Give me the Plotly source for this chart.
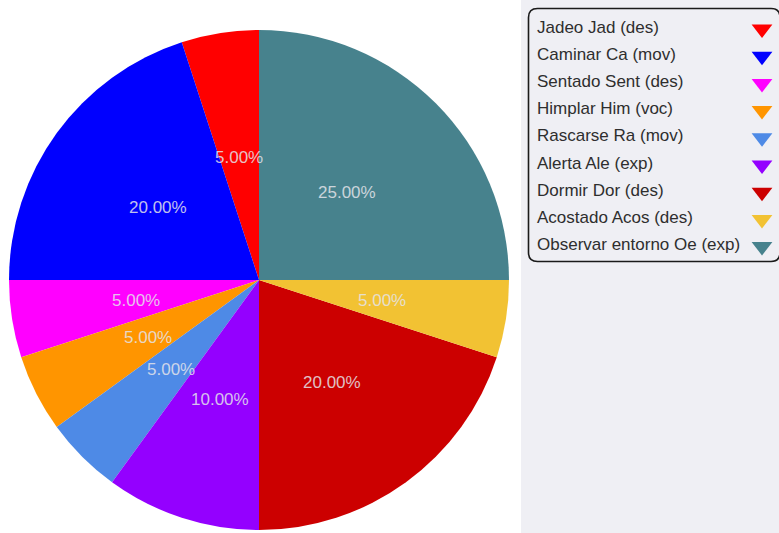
import math
import plotly.graph_objects as go

# Data
labels = ["Jadeo Jad (des)", "Caminar Ca (mov)", "Sentado Sent (des)", "Himplar Him (voc)",
          "Rascarse Ra (mov)", "Alerta Ale (exp)", "Dormir Dor (des)", "Acostado Acos (des)",
          "Observar entorno Oe (exp)"]
values = [5, 20, 5, 5, 5, 10, 20, 5, 25]
colors = ["#FF0000", "#0000FF", "#FF00FF", "#FF9500", "#4E8AE6", "#9400FF", "#CC0000",
          "#F2C233", "#47828D"]

W, H = 779, 533
total = sum(values)

fig = go.Figure()

# Pie (first slice starts at 12 o'clock and runs counterclockwise)
cx, cy, R = 259, 280, 250
fig.add_trace(go.Pie(
    labels=labels, values=values, sort=False, direction="counterclockwise",
    rotation=-360 * values[0] / total,
    marker=dict(colors=colors, line=dict(width=0)),
    textinfo="none",
    domain=dict(x=[(cx - R) / W, (cx + R) / W], y=[1 - (cy + R) / H, 1 - (cy - R) / H]),
    showlegend=False, hoverinfo="label+percent",
))

# Percent labels at half radius along each slice's mid angle
start = 0
for v in values:
    mid = math.radians((start + v / 2) / total * 360)
    start += v
    fig.add_annotation(x=cx - 0.5 * R * math.sin(mid), y=cy - 0.5 * R * math.cos(mid) + 1,
                       xref="x", yref="y", text=f"{v / total * 100:.2f}%", showarrow=False,
                       font=dict(family="Liberation Sans, Arial", size=17,
                                 color="rgba(228,228,234,0.85)"))

# Custom legend (text left, wedge symbol right)
row_y = [27 + 27.2 * i for i in range(len(labels))]
fig.add_trace(go.Scatter(
    x=[762] * len(labels), y=[yy + 2 for yy in row_y], mode="markers", xaxis="x", yaxis="y",
    marker=dict(symbol="triangle-down", size=18, color=colors, line=dict(width=0)),
    showlegend=False, hoverinfo="skip",
))
for lab, yy in zip(labels, row_y):
    fig.add_annotation(x=535, y=yy, xref="x", yref="y", text=lab, showarrow=False,
                       xanchor="left", yanchor="middle",
                       font=dict(family="Liberation Sans, Arial", size=17, color="#2e2e2e"))

# Gray side panel and rounded legend box
x0, y0, x1, y1, r = 528.5, 8.5, 780, 261.5, 9
box = (f"M {x0 + r},{y0} L {x1 - r},{y0} Q {x1},{y0} {x1},{y0 + r} L {x1},{y1 - r} "
       f"Q {x1},{y1} {x1 - r},{y1} L {x0 + r},{y1} Q {x0},{y1} {x0},{y1 - r} "
       f"L {x0},{y0 + r} Q {x0},{y0} {x0 + r},{y0} Z")
fig.update_layout(shapes=[
    dict(type="rect", xref="x", yref="y", x0=521, x1=W, y0=0, y1=H,
         fillcolor="#EFEFF4", line=dict(width=0), layer="below"),
    dict(type="path", xref="x", yref="y", path=box, line=dict(color="#1a1a1a", width=1.6)),
])

fig.update_layout(
    width=W, height=H, margin=dict(l=0, r=0, t=0, b=0),
    paper_bgcolor="white", plot_bgcolor="rgba(0,0,0,0)",
    xaxis=dict(range=[0, W], visible=False, fixedrange=True),
    yaxis=dict(range=[H, 0], visible=False, fixedrange=True),
    showlegend=False,
)

fig.write_html("out.html", config={"displayModeBar": False},
               post_script="document.body.style.margin='0';")
